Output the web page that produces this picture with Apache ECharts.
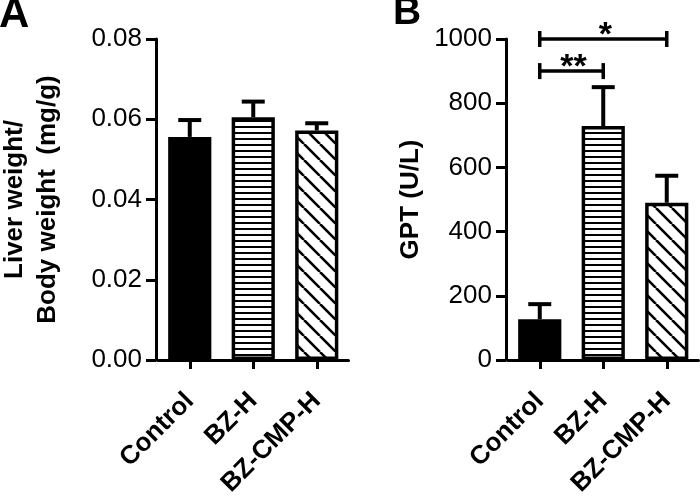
<!DOCTYPE html>
<html>
<head>
<meta charset="utf-8">
<script src="https://cdn.jsdelivr.net/npm/echarts@6/dist/echarts.min.js"></script>
<style>html,body{margin:0;padding:0;background:#fff}#c{width:700px;height:498px}</style>
</head>
<body>
<div id="c"></div>
<script>
var categories = ['Control', 'BZ-H', 'BZ-CMP-H'];
var liverMean = [0.0556, 0.0605, 0.0572];
var liverErr = [0.0042, 0.0039, 0.0018];
var liverTicks = [0, 0.02, 0.04, 0.06, 0.08];
var gptMean = [127, 729, 490];
var gptErr = [47, 121, 84];
var gptTicks = [0, 200, 400, 600, 800, 1000];
var brackets = [[0, 1, 900, '**'], [0, 2, 1000, '*']];

function makeStripes() {
  var c = document.createElement('canvas');
  c.width = 8; c.height = 6;
  var g = c.getContext('2d');
  g.fillStyle = '#fff'; g.fillRect(0, 0, 8, 6);
  g.fillStyle = '#000'; g.fillRect(0, 0, 8, 2);
  return c;
}
function makeDiag() {
  var s = 16;
  var c = document.createElement('canvas');
  c.width = s; c.height = s;
  var g = c.getContext('2d');
  g.fillStyle = '#fff'; g.fillRect(0, 0, s, s);
  g.strokeStyle = '#000'; g.lineWidth = 2.6;
  [-s, 0, s].forEach(function (x0) {
    g.beginPath(); g.moveTo(x0, 0); g.lineTo(x0 + s, s); g.stroke();
  });
  return c;
}
var fills = ['#000', { image: makeStripes(), repeat: 'repeat' }, { image: makeDiag(), repeat: 'repeat' }];

function barData(vals) {
  return vals.map(function (v, i) {
    return { value: v, itemStyle: { color: fills[i], borderColor: '#000', borderWidth: 3.5 } };
  });
}
function errData(m, e) {
  return m.map(function (v, i) { return [i, v, v + e[i]]; });
}
function errRender(params, api) {
  var p0 = api.coord([api.value(0), api.value(1)]);
  var p1 = api.coord([api.value(0), api.value(2)]);
  var hw = 11.5;
  return {
    type: 'group',
    children: [
      { type: 'line', shape: { x1: p0[0], y1: p0[1], x2: p1[0], y2: p1[1] }, style: { stroke: '#000', lineWidth: 4 } },
      { type: 'line', shape: { x1: p1[0] - hw, y1: p1[1], x2: p1[0] + hw, y2: p1[1] }, style: { stroke: '#000', lineWidth: 4 } }
    ]
  };
}
function bracketRender(params, api) {
  var a = api.coord([api.value(0), api.value(2)]);
  var b = api.coord([api.value(1), api.value(2)]);
  var lab = brackets[params.dataIndex][3];
  var h = 8;
  return {
    type: 'group',
    children: [
      { type: 'line', shape: { x1: a[0], y1: a[1], x2: b[0], y2: b[1] }, style: { stroke: '#000', lineWidth: 3.5 } },
      { type: 'line', shape: { x1: a[0], y1: a[1] - h, x2: a[0], y2: a[1] + h }, style: { stroke: '#000', lineWidth: 3.5 } },
      { type: 'line', shape: { x1: b[0], y1: b[1] - h, x2: b[0], y2: b[1] + h }, style: { stroke: '#000', lineWidth: 3.5 } },
      { type: 'text', style: { text: lab, x: (a[0] + b[0]) / 2 + 2, y: a[1] + 14, align: 'center', verticalAlign: 'bottom', font: 'bold 34px "Liberation Sans", Arial, sans-serif', fill: '#000' } }
    ]
  };
}

var FONT = '"Liberation Sans", Arial, sans-serif';
function yAxis(gi, max, interval, dec, name, gap, lh) {
  return {
    type: 'value', gridIndex: gi, min: 0, max: max, interval: interval, offset: 2,
    name: name, nameLocation: 'middle', nameGap: gap,
    nameTextStyle: { fontFamily: FONT, fontWeight: 'bold', fontSize: 26, color: '#000', lineHeight: lh },
    axisLine: { show: true, lineStyle: { color: '#000', width: 3 } },
    axisTick: { show: true, length: 10, lineStyle: { color: '#000', width: 3 } },
    splitLine: { show: false },
    axisLabel: { fontFamily: FONT, fontSize: 26, color: '#000', margin: 14,
      formatter: function (v) { return dec ? v.toFixed(dec) : String(v); } }
  };
}
function xAxis(gi) {
  return {
    type: 'category', gridIndex: gi, data: categories,
    axisLine: { show: true, onZero: false, lineStyle: { color: '#000', width: 3 } },
    axisTick: { show: true, alignWithLabel: true, length: 9, lineStyle: { color: '#000', width: 3 } },
    axisLabel: { rotate: 45, fontFamily: FONT, fontWeight: 'bold', fontSize: 26, color: '#000', margin: 37, interval: 0,
      padding: [18, 0, 0, 0] }
  };
}

var chart = echarts.init(document.getElementById('c'), null, { renderer: 'canvas' });
chart.setOption({
  animation: false,
  backgroundColor: '#fff',
  grid: [
    { left: 158, top: 39, width: 190.5, height: 321, containLabel: false, outerBoundsMode: 'none' },
    { left: 508, top: 39, width: 190.5, height: 321, containLabel: false, outerBoundsMode: 'none' }
  ],
  xAxis: [xAxis(0), xAxis(1)],
  yAxis: [
    yAxis(0, 0.08, 0.02, 2, 'Liver weight/\nBody weight  (mg/g)', 92, 33),
    yAxis(1, 1000, 200, 0, 'GPT (U/L)', 80, 30)
  ],
  graphic: [
    { type: 'text', left: -1, top: -6, style: { text: 'A', font: 'bold 42px ' + FONT, fill: '#000' } },
    { type: 'text', left: 393, top: -6, style: { text: 'B', font: 'bold 39px ' + FONT, fill: '#000' } }
  ],
  series: [
    { type: 'bar', xAxisIndex: 0, yAxisIndex: 0, barWidth: '68%', data: barData(liverMean), z: 2 },
    { type: 'custom', xAxisIndex: 0, yAxisIndex: 0, renderItem: errRender, data: errData(liverMean, liverErr), encode: { x: 0, y: [1, 2] }, z: 3 },
    { type: 'bar', xAxisIndex: 1, yAxisIndex: 1, barWidth: '68%', data: barData(gptMean), z: 2 },
    { type: 'custom', xAxisIndex: 1, yAxisIndex: 1, renderItem: errRender, data: errData(gptMean, gptErr), encode: { x: 0, y: [1, 2] }, z: 3 },
    { type: 'custom', xAxisIndex: 1, yAxisIndex: 1, renderItem: bracketRender, data: brackets.map(function (b) { return [b[0], b[1], b[2]]; }), encode: { x: [0, 1], y: 2 }, z: 4, clip: false }
  ]
});
</script>
</body>
</html>
